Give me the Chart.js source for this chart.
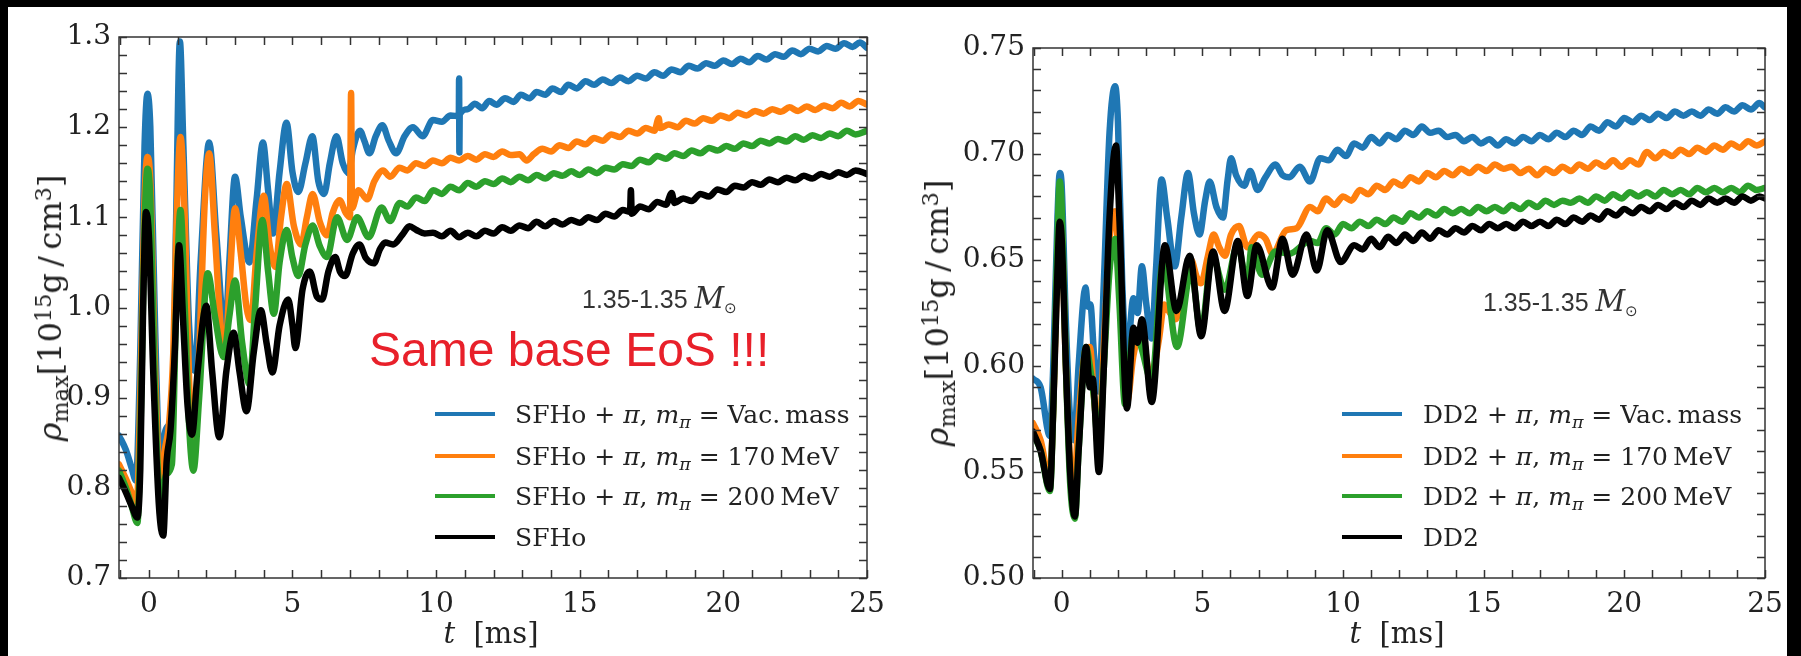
<!DOCTYPE html>
<html>
<head>
<meta charset="utf-8">
<script src="https://cdn.jsdelivr.net/npm/chart.js@4.4.1/dist/chart.umd.min.js"></script>
<style>
  html, body { margin: 0; padding: 0; background: #000; }
  body { width: 1801px; height: 656px; position: relative; overflow: hidden; font-family: 'DejaVu Serif', serif; color: #222; }
  #sheet { position: absolute; left: 8px; top: 7px; width: 1779px; height: 649px; background: #fff; }
  canvas { position: absolute; top: 0; }
  .txt { position: absolute; white-space: nowrap; line-height: 1; }
  .txt sub, .txt sup { font-size: 0.7em; vertical-align: baseline; position: relative; line-height: 0; }
  .txt sub { top: 0.3em; }
  .txt sup { top: -0.45em; }
  .ytitle { font-size: 32px; transform: translate(-50%, -50%) rotate(-90deg); }
  .xtitle { font-size: 29px; transform: translate(-50%, -50%); }
  .legline { position: absolute; width: 60px; height: 4px; }
  .legtxt { font-size: 25px; transform: translateY(-50%); }
  .mass { font-family: 'Liberation Sans', sans-serif; font-size: 25px; color: #333; transform: translateY(-50%); }
  .mass i { font-family: 'DejaVu Serif', serif; font-size: 29px; }
  .mass sub { font-size: 0.6em; top: 0.35em; }
  .red { font-family: 'Liberation Sans', sans-serif; font-size: 48px; color: #e8202a; }
</style>
</head>
<body>
<div id="sheet"></div>
<canvas id="sfhoChart" width="900" height="656" style="left:0"></canvas>
<canvas id="dd2Chart" width="901" height="656" style="left:900px"></canvas>

<div class="txt ytitle" style="left:50px; top:308px"><i>ρ</i><sub>max</sub>[10<sup>15</sup>g&thinsp;/&thinsp;cm<sup>3</sup>]</div>
<div class="txt ytitle" style="left:937px; top:313px"><i>ρ</i><sub>max</sub>[10<sup>15</sup>g&thinsp;/&thinsp;cm<sup>3</sup>]</div>
<div class="txt xtitle" style="left:491px; top:633px"><i>t</i>&nbsp;&nbsp;[ms]</div>
<div class="txt xtitle" style="left:1397px; top:633px"><i>t</i>&nbsp;&nbsp;[ms]</div>
<div class="txt mass" style="left:582px; top:298px">1.35-1.35 <i>M</i><sub>⊙</sub></div>
<div class="txt mass" style="left:1483px; top:301px">1.35-1.35 <i>M</i><sub>⊙</sub></div>
<div class="txt red" style="left:369px; top:326px">Same base EoS !!!</div>
<div id="legends"></div>

<script>
// x axis (time in ms)
const xTicks = [0, 5, 10, 15, 20, 25];
const xMax = 25;

// y tick labels for each panel
const sfhoTicks = [0.7, 0.8, 0.9, 1.0, 1.1, 1.2, 1.3];
const dd2Ticks = [0.50, 0.55, 0.60, 0.65, 0.70, 0.75];

const seriesColors = ['#1f77b4', '#ff7f0e', '#2ca02c', '#000000'];
const pionMasses = ['Vac.&thinsp;mass', '170&thinsp;MeV', '200&thinsp;MeV', null];

// SFHo panel: [t (ms), rho_max (1e15 g/cm^3)]
const sfhoVac = [[-1.04,0.858],[-0.8,0.842],[-0.6,0.822],[-0.45,0.808],[-0.3,0.95],[-0.15,1.18],[-0.05,1.237],[0.05,1.2],[0.2,1.0],[0.35,0.84],[0.45,0.822],[0.55,0.86],[0.7,0.87],[0.85,0.9],[0.95,1.1],[1.08,1.295],[1.2,1.18],[1.4,0.98],[1.6,0.93],[1.8,1.05],[2.1,1.183],[2.35,1.08],[2.65,0.97],[2.8,1.05],[3.0,1.145],[3.2,1.1],[3.5,1.05],[3.75,1.12],[3.97,1.183],[4.15,1.13],[4.32,1.082],[4.55,1.15],[4.79,1.205],[5.0,1.15],[5.2,1.128],[5.45,1.16],[5.69,1.19],[5.9,1.14],[6.1,1.126],[6.3,1.16],[6.53,1.19],[6.75,1.16],[6.95,1.149],[7.1,1.175],[7.35,1.196],[7.5,1.185],[7.68,1.171],[7.9,1.19],[8.13,1.202],[8.35,1.185],[8.61,1.171],[8.9,1.19],[9.19,1.2],[9.53,1.19],[9.89,1.208],[10.2,1.206],[10.5,1.213],[10.79,1.212],[10.8,1.254],[10.81,1.172],[10.82,1.214],[11.1,1.22],[11.35,1.226],[11.6,1.221],[11.85,1.229],[12.1,1.225],[12.4,1.232],[12.7,1.228],[12.95,1.236],[13.25,1.232],[13.5,1.239],[13.8,1.236],[14.05,1.243],[14.35,1.239],[14.6,1.247],[14.9,1.243],[15.2,1.251],[15.5,1.247],[15.8,1.253],[16.1,1.249],[16.4,1.255],[16.7,1.251],[17.0,1.257],[17.3,1.254],[17.6,1.261],[17.9,1.257],[18.2,1.264],[18.5,1.261],[18.8,1.268],[19.1,1.265],[19.4,1.271],[19.7,1.268],[20.0,1.274],[20.3,1.27],[20.6,1.276],[20.9,1.272],[21.2,1.279],[21.5,1.275],[21.8,1.281],[22.1,1.278],[22.4,1.285],[22.7,1.281],[23.0,1.287],[23.3,1.284],[23.6,1.29],[23.9,1.287],[24.2,1.293],[24.5,1.289],[24.75,1.294],[25.0,1.288]];
const sfho170 = [[-1.04,0.826],[-0.8,0.81],[-0.6,0.795],[-0.42,0.782],[-0.3,0.9],[-0.15,1.12],[-0.05,1.167],[0.05,1.14],[0.2,0.95],[0.35,0.82],[0.45,0.804],[0.55,0.84],[0.7,0.87],[0.85,0.95],[0.95,1.08],[1.1,1.189],[1.25,1.1],[1.4,0.92],[1.55,0.852],[1.75,0.95],[1.95,1.12],[2.1,1.171],[2.3,1.08],[2.5,0.98],[2.65,0.945],[2.8,1.02],[3.0,1.11],[3.2,1.06],[3.4,1.0],[3.55,0.986],[3.75,1.06],[4.0,1.124],[4.2,1.07],[4.4,1.045],[4.6,1.1],[4.8,1.137],[5.05,1.09],[5.3,1.07],[5.5,1.1],[5.7,1.126],[5.95,1.095],[6.2,1.08],[6.4,1.105],[6.64,1.119],[6.85,1.105],[7.0,1.1],[7.04,1.238],[7.07,1.11],[7.3,1.13],[7.6,1.12],[7.85,1.14],[8.15,1.152],[8.4,1.145],[8.73,1.155],[9.0,1.152],[9.3,1.16],[9.6,1.157],[9.89,1.163],[10.2,1.16],[10.5,1.166],[10.8,1.163],[11.1,1.168],[11.4,1.164],[11.7,1.17],[12.0,1.167],[12.3,1.173],[12.6,1.169],[12.9,1.17],[13.15,1.163],[13.4,1.17],[13.7,1.176],[14.0,1.173],[14.3,1.18],[14.6,1.177],[14.9,1.184],[15.2,1.181],[15.5,1.188],[15.8,1.185],[16.1,1.192],[16.4,1.189],[16.7,1.196],[17.0,1.193],[17.3,1.199],[17.6,1.196],[17.75,1.21],[17.8,1.199],[18.1,1.203],[18.4,1.2],[18.7,1.207],[19.0,1.204],[19.3,1.21],[19.6,1.207],[19.9,1.213],[20.2,1.21],[20.5,1.216],[20.8,1.213],[21.1,1.218],[21.4,1.215],[21.7,1.22],[22.0,1.217],[22.3,1.222],[22.6,1.218],[22.9,1.223],[23.2,1.219],[23.5,1.224],[23.8,1.221],[24.1,1.227],[24.4,1.223],[24.7,1.229],[25.0,1.225]];
const sfho200 = [[-1.04,0.819],[-0.8,0.8],[-0.6,0.78],[-0.4,0.761],[-0.3,0.85],[-0.15,1.09],[-0.05,1.154],[0.05,1.12],[0.2,0.92],[0.35,0.8],[0.45,0.79],[0.6,0.815],[0.8,0.826],[0.95,1.0],[1.1,1.108],[1.25,1.0],[1.4,0.87],[1.55,0.819],[1.75,0.9],[2.05,1.038],[2.3,0.99],[2.6,0.945],[2.8,0.99],[3.0,1.03],[3.25,0.96],[3.5,0.915],[3.7,1.0],[3.95,1.097],[4.15,1.04],[4.35,0.993],[4.55,1.05],[4.8,1.086],[5.0,1.055],[5.2,1.035],[5.45,1.07],[5.7,1.091],[5.95,1.068],[6.2,1.056],[6.55,1.1],[6.9,1.075],[7.25,1.1],[7.65,1.078],[8.1,1.111],[8.4,1.096],[8.73,1.116],[9.0,1.112],[9.3,1.122],[9.6,1.118],[9.9,1.13],[10.2,1.126],[10.5,1.134],[10.8,1.13],[11.1,1.138],[11.4,1.134],[11.7,1.14],[12.0,1.137],[12.3,1.143],[12.6,1.139],[12.9,1.145],[13.2,1.141],[13.5,1.147],[13.8,1.143],[14.1,1.149],[14.4,1.146],[14.7,1.151],[15.0,1.147],[15.3,1.153],[15.6,1.149],[15.9,1.155],[16.2,1.153],[16.5,1.159],[16.8,1.157],[17.1,1.164],[17.4,1.161],[17.7,1.168],[18.0,1.165],[18.3,1.171],[18.6,1.168],[18.9,1.174],[19.2,1.171],[19.5,1.177],[19.8,1.174],[20.1,1.179],[20.4,1.176],[20.7,1.182],[21.0,1.179],[21.3,1.185],[21.6,1.182],[21.9,1.187],[22.2,1.184],[22.5,1.19],[22.8,1.186],[23.1,1.191],[23.4,1.188],[23.7,1.193],[24.0,1.19],[24.3,1.196],[24.6,1.192],[25.0,1.196]];
const sfhoBase = [[-1.04,0.811],[-0.8,0.795],[-0.6,0.78],[-0.4,0.767],[-0.3,0.82],[-0.2,1.0],[-0.1,1.106],[0.0,1.08],[0.15,0.93],[0.35,0.78],[0.5,0.747],[0.62,0.83],[0.75,0.863],[0.9,0.95],[1.05,1.069],[1.2,0.98],[1.35,0.89],[1.5,0.859],[1.7,0.93],[2.0,1.002],[2.2,0.93],[2.45,0.856],[2.7,0.93],[2.95,0.972],[3.15,0.93],[3.4,0.885],[3.65,0.95],[3.9,0.997],[4.1,0.96],[4.3,0.928],[4.55,0.98],[4.85,1.009],[5.0,0.98],[5.1,0.955],[5.35,1.02],[5.6,1.04],[5.85,1.012],[6.03,1.009],[6.25,1.04],[6.49,1.056],[6.65,1.04],[6.83,1.035],[7.1,1.06],[7.33,1.07],[7.55,1.055],[7.83,1.049],[8.05,1.065],[8.23,1.072],[8.5,1.07],[8.83,1.081],[9.07,1.09],[9.31,1.086],[9.6,1.082],[9.89,1.083],[10.2,1.079],[10.5,1.085],[10.8,1.078],[11.1,1.083],[11.4,1.079],[11.7,1.085],[12.0,1.082],[12.3,1.089],[12.6,1.085],[12.9,1.091],[13.2,1.088],[13.5,1.095],[13.8,1.09],[14.1,1.096],[14.4,1.092],[14.7,1.097],[15.0,1.094],[15.3,1.1],[15.6,1.097],[15.9,1.104],[16.2,1.101],[16.5,1.108],[16.75,1.106],[16.78,1.13],[16.81,1.104],[17.1,1.112],[17.4,1.109],[17.7,1.117],[18.0,1.114],[18.2,1.127],[18.3,1.116],[18.6,1.121],[18.9,1.118],[19.2,1.126],[19.5,1.123],[19.8,1.131],[20.1,1.128],[20.4,1.135],[20.7,1.133],[21.0,1.139],[21.3,1.136],[21.6,1.142],[21.9,1.139],[22.2,1.144],[22.5,1.141],[22.8,1.146],[23.1,1.143],[23.4,1.148],[23.7,1.145],[24.0,1.15],[24.3,1.147],[24.6,1.152],[25.0,1.148]];

// DD2 panel
const dd2Vac = [[-1.02,0.594],[-0.75,0.59],[-0.42,0.567],[-0.3,0.6],[-0.15,0.67],[-0.07,0.691],[0.0,0.685],[0.15,0.62],[0.3,0.575],[0.44,0.565],[0.6,0.6],[0.85,0.637],[0.93,0.628],[1.02,0.629],[1.15,0.605],[1.32,0.588],[1.5,0.64],[1.7,0.71],[1.9,0.732],[2.0,0.715],[2.15,0.64],[2.32,0.605],[2.55,0.632],[2.7,0.625],[2.85,0.647],[3.0,0.63],[3.2,0.613],[3.35,0.645],[3.55,0.688],[3.75,0.67],[4.02,0.647],[4.25,0.67],[4.49,0.691],[4.7,0.672],[4.9,0.662],[5.1,0.678],[5.26,0.687],[5.5,0.675],[5.73,0.67],[5.9,0.688],[6.02,0.698],[6.2,0.69],[6.49,0.685],[6.7,0.692],[6.96,0.683],[7.24,0.689],[7.6,0.695],[7.85,0.69],[8.09,0.689],[8.46,0.694],[8.83,0.687],[9.19,0.698],[9.5,0.697],[9.8,0.702],[10.1,0.699],[10.4,0.705],[10.7,0.703],[11.0,0.708],[11.3,0.705],[11.6,0.709],[11.9,0.707],[12.2,0.711],[12.5,0.709],[12.8,0.713],[13.1,0.71],[13.4,0.711],[13.7,0.708],[14.0,0.709],[14.3,0.706],[14.6,0.708],[14.9,0.705],[15.2,0.707],[15.5,0.704],[15.8,0.707],[16.1,0.705],[16.4,0.708],[16.7,0.706],[17.0,0.709],[17.3,0.707],[17.6,0.71],[17.9,0.708],[18.2,0.711],[18.5,0.709],[18.8,0.713],[19.1,0.711],[19.4,0.715],[19.7,0.713],[20.0,0.717],[20.3,0.715],[20.6,0.718],[20.9,0.716],[21.2,0.719],[21.5,0.717],[21.8,0.72],[22.1,0.718],[22.4,0.72],[22.7,0.718],[23.0,0.721],[23.3,0.719],[23.6,0.722],[23.9,0.72],[24.2,0.723],[24.5,0.721],[24.8,0.724],[25.0,0.722]];
const dd2170 = [[-1.02,0.573],[-0.75,0.565],[-0.42,0.546],[-0.3,0.58],[-0.15,0.65],[-0.07,0.672],[0.0,0.665],[0.15,0.6],[0.3,0.555],[0.44,0.545],[0.6,0.575],[0.85,0.608],[1.0,0.609],[1.15,0.585],[1.32,0.565],[1.5,0.61],[1.7,0.66],[1.9,0.673],[2.05,0.64],[2.32,0.583],[2.55,0.605],[2.85,0.618],[3.05,0.6],[3.2,0.596],[3.45,0.612],[3.65,0.629],[3.85,0.625],[4.05,0.622],[4.3,0.635],[4.6,0.65],[4.8,0.642],[4.95,0.639],[5.2,0.652],[5.4,0.662],[5.6,0.656],[5.8,0.652],[6.02,0.662],[6.3,0.666],[6.6,0.656],[7.0,0.662],[7.25,0.66],[7.49,0.653],[7.98,0.664],[8.35,0.665],[8.83,0.675],[9.1,0.673],[9.4,0.679],[9.7,0.676],[10.0,0.68],[10.3,0.678],[10.6,0.683],[10.9,0.681],[11.2,0.685],[11.5,0.683],[11.8,0.687],[12.1,0.685],[12.4,0.689],[12.7,0.687],[13.0,0.691],[13.3,0.689],[13.6,0.692],[13.9,0.69],[14.2,0.693],[14.5,0.691],[14.8,0.694],[15.1,0.692],[15.4,0.695],[15.7,0.693],[16.0,0.694],[16.3,0.691],[16.6,0.693],[16.9,0.69],[17.2,0.693],[17.5,0.691],[17.8,0.694],[18.1,0.692],[18.4,0.695],[18.7,0.693],[19.0,0.696],[19.3,0.694],[19.6,0.697],[19.9,0.694],[20.2,0.697],[20.5,0.695],[20.8,0.701],[21.1,0.698],[21.4,0.701],[21.7,0.699],[22.0,0.702],[22.3,0.7],[22.6,0.703],[22.9,0.701],[23.2,0.704],[23.5,0.702],[23.8,0.705],[24.1,0.703],[24.4,0.706],[24.7,0.704],[25.0,0.706]];
const dd2200 = [[-1.02,0.568],[-0.75,0.56],[-0.42,0.541],[-0.3,0.58],[-0.15,0.66],[-0.07,0.687],[0.0,0.675],[0.15,0.6],[0.3,0.545],[0.47,0.528],[0.6,0.56],[0.87,0.609],[1.0,0.6],[1.15,0.585],[1.32,0.559],[1.5,0.6],[1.7,0.645],[1.9,0.66],[2.05,0.63],[2.25,0.582],[2.55,0.616],[2.8,0.61],[3.2,0.593],[3.6,0.649],[4.1,0.609],[4.6,0.645],[4.95,0.616],[5.35,0.652],[5.8,0.636],[6.25,0.657],[6.6,0.639],[6.75,0.656],[7.12,0.643],[7.6,0.654],[8.09,0.653],[8.83,0.659],[9.1,0.658],[9.4,0.665],[9.7,0.662],[10.0,0.667],[10.3,0.665],[10.6,0.668],[10.9,0.666],[11.2,0.669],[11.5,0.667],[11.8,0.67],[12.1,0.668],[12.4,0.672],[12.7,0.67],[13.0,0.673],[13.3,0.671],[13.6,0.674],[13.9,0.672],[14.2,0.674],[14.5,0.672],[14.8,0.675],[15.1,0.673],[15.4,0.675],[15.7,0.673],[16.0,0.676],[16.3,0.674],[16.6,0.677],[16.9,0.675],[17.2,0.678],[17.5,0.676],[17.8,0.678],[18.1,0.677],[18.4,0.679],[18.7,0.677],[19.0,0.68],[19.3,0.678],[19.6,0.681],[19.9,0.679],[20.2,0.682],[20.5,0.68],[20.8,0.682],[21.1,0.68],[21.4,0.683],[21.7,0.681],[22.0,0.683],[22.3,0.681],[22.6,0.684],[22.9,0.682],[23.2,0.684],[23.5,0.682],[23.8,0.684],[24.1,0.682],[24.4,0.685],[24.7,0.683],[25.0,0.684]];
const dd2Base = [[-1.02,0.569],[-0.75,0.56],[-0.42,0.542],[-0.3,0.58],[-0.15,0.645],[-0.07,0.668],[0.0,0.66],[0.15,0.6],[0.3,0.55],[0.47,0.529],[0.6,0.56],[0.87,0.609],[1.0,0.59],[1.1,0.594],[1.32,0.55],[1.5,0.6],[1.7,0.67],[1.93,0.704],[2.05,0.67],[2.32,0.58],[2.55,0.618],[2.7,0.611],[2.85,0.622],[3.2,0.583],[3.67,0.657],[4.08,0.626],[4.55,0.652],[4.96,0.614],[5.38,0.654],[5.79,0.626],[6.26,0.659],[6.6,0.633],[6.93,0.657],[7.48,0.637],[7.85,0.66],[8.21,0.643],[8.7,0.662],[9.07,0.645],[9.44,0.664],[9.92,0.649],[10.4,0.657],[10.7,0.655],[11.0,0.66],[11.3,0.656],[11.6,0.661],[11.9,0.658],[12.2,0.662],[12.5,0.659],[12.8,0.663],[13.1,0.66],[13.4,0.664],[13.7,0.662],[14.0,0.665],[14.3,0.663],[14.6,0.666],[14.9,0.664],[15.2,0.667],[15.5,0.665],[15.8,0.667],[16.1,0.665],[16.4,0.668],[16.7,0.666],[17.0,0.668],[17.3,0.666],[17.6,0.669],[17.9,0.667],[18.2,0.67],[18.5,0.668],[18.8,0.671],[19.1,0.669],[19.4,0.673],[19.7,0.671],[20.0,0.674],[20.3,0.672],[20.6,0.675],[20.9,0.673],[21.2,0.676],[21.5,0.674],[21.8,0.677],[22.1,0.675],[22.4,0.678],[22.7,0.676],[23.0,0.679],[23.3,0.677],[23.6,0.679],[23.9,0.677],[24.2,0.68],[24.5,0.678],[24.8,0.68],[25.0,0.679]];

Chart.defaults.font.family = "'DejaVu Serif', serif";
Chart.defaults.color = '#222';

// matplotlib style box with inward ticks on all four sides
const frameTicks = {
    id: 'frameTicks',
    afterDatasetsDraw(chart, args, opts) {
        const { ctx, chartArea: a, scales: { x, y } } = chart;
        const len = 8;
        ctx.save();
        ctx.strokeStyle = '#333';
        ctx.lineWidth = 1.5;
        ctx.beginPath();
        for (let v = Math.ceil(x.min); v <= x.max + 1e-9; v += 1) {
            const px = Math.round(x.getPixelForValue(v)) + 0.5;
            ctx.moveTo(px, a.bottom); ctx.lineTo(px, a.bottom - len);
            ctx.moveTo(px, a.top); ctx.lineTo(px, a.top + len);
        }
        const n = Math.round((y.max - y.min) / opts.yMinor);
        for (let i = 0; i <= n; i++) {
            const py = Math.round(y.getPixelForValue(y.min + i * opts.yMinor)) + 0.5;
            ctx.moveTo(a.left, py); ctx.lineTo(a.left + len, py);
            ctx.moveTo(a.right, py); ctx.lineTo(a.right - len, py);
        }
        ctx.stroke();
        ctx.strokeRect(a.left, a.top, a.width, a.height);
        ctx.restore();
    }
};

function makeChart(canvasId, series, yTicks, digits, yMinor, xMin, axisWidth, pad) {
    const ctx = document.getElementById(canvasId).getContext('2d');
    const tickFont = { family: "'DejaVu Serif', serif", size: 28 };
    return new Chart(ctx, {
        type: 'line',
        data: {
            datasets: series.map((pts, i) => ({
                data: pts.map(p => ({ x: p[0], y: p[1] })),
                borderColor: seriesColors[i],
                borderWidth: 6.5,
                pointRadius: 0,
                cubicInterpolationMode: 'monotone',
                borderJoinStyle: 'round',
                borderCapStyle: 'round',
                order: 4 - i
            }))
        },
        options: {
            responsive: false,
            animation: false,
            devicePixelRatio: 1,
            layout: { padding: pad },
            scales: {
                x: {
                    type: 'linear',
                    min: xMin,
                    max: xMax,
                    afterBuildTicks: s => { s.ticks = xTicks.map(v => ({ value: v })); },
                    afterFit: s => { s.height = 78; },
                    grid: { display: false, drawTicks: false },
                    border: { display: false },
                    ticks: { font: tickFont, color: '#222', padding: 10, autoSkip: false, maxRotation: 0, includeBounds: false }
                },
                y: {
                    type: 'linear',
                    min: yTicks[0],
                    max: yTicks[yTicks.length - 1],
                    afterBuildTicks: s => { s.ticks = yTicks.map(v => ({ value: v })); },
                    afterFit: s => { s.width = axisWidth; },
                    grid: { display: false, drawTicks: false },
                    border: { display: false },
                    ticks: { font: tickFont, color: '#222', padding: 8, autoSkip: false, callback: v => Number(v).toFixed(digits) }
                }
            },
            plugins: {
                legend: { display: false },
                tooltip: { enabled: false },
                frameTicks: { yMinor: yMinor }
            }
        },
        plugins: [frameTicks]
    });
}

const sfhoChart = makeChart('sfhoChart', [sfhoVac, sfho170, sfho200, sfhoBase], sfhoTicks, 1, 0.02, -1.04, 119, { left: 0, top: 37, right: 33, bottom: 0 });
const dd2Chart = makeChart('dd2Chart', [dd2Vac, dd2170, dd2200, dd2Base], dd2Ticks, 2, 0.01, -1.02, 133, { left: 0, top: 48, right: 36, bottom: 0 });

// legends drawn as html so the pion mass can carry a subscript
function buildLegend(eos, lineX, textX, rowsY) {
    let html = '';
    rowsY.forEach((yc, i) => {
        const m = pionMasses[i];
        const label = m ? `${eos} + <i>π</i>, <i>m</i><sub><i>π</i></sub> = ${m}` : eos;
        html += `<div class="legline" style="left:${lineX}px; top:${yc - 2}px; background:${seriesColors[i]}"></div>`;
        html += `<div class="txt legtxt" style="left:${textX}px; top:${yc}px">${label}</div>`;
    });
    return html;
}
document.getElementById('legends').innerHTML =
    buildLegend('SFHo', 435, 515, [414, 456, 496, 537]) +
    buildLegend('DD2', 1342, 1423, [414, 456, 496, 537]);
</script>
</body>
</html>
